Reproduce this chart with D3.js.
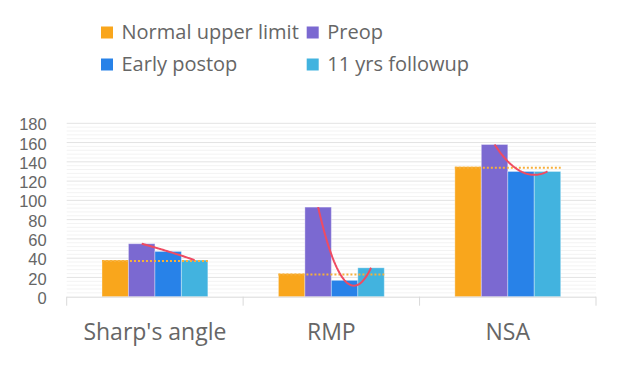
<!DOCTYPE html>
<html>
<head>
<meta charset="utf-8">
<script src="https://cdn.jsdelivr.net/npm/d3@7"></script>
<style>
  body { margin: 0; background: #ffffff; }
  text { font-family: "Open Sans", sans-serif; fill: #666666; }
</style>
</head>
<body>
<div id="chart"></div>
<script>
// datos
const categories = ["Sharp's angle", "RMP", "NSA"]
const seriesNames = ["Normal upper limit", "Preop", "Early postop", "11 yrs followup"]
const normalUpper = [38, 24, 135]
const preop = [55, 93, 158]
const earlyPostop = [47, 17, 130]
const followup = [38, 30, 130]
const yTicks = [0, 20, 40, 60, 80, 100, 120, 140, 160, 180]

const colors = ["#F9A61C", "#7B69D1", "#2882E8", "#42B3DF"]

const width = 617, height = 375
const margin = { top: 123.3, right: 21, bottom: 78.3, left: 66.7 }

const svg = d3.select("#chart").append("svg")
    .attr("width", width)
    .attr("height", height)

const rows = categories.map((c, i) => ({
    cat: c,
    values: [normalUpper[i], preop[i], earlyPostop[i], followup[i]]
}))

const x = d3.scaleBand()
    .domain(categories)
    .range([margin.left, width - margin.right])
    .padding(0)

const y = d3.scaleLinear()
    .domain([0, 180])
    .range([height - margin.bottom, margin.top])

const groupW = x.bandwidth() * 0.6
const xs = d3.scaleBand().domain(d3.range(4)).range([0, groupW]).padding(0)

// grid menor
const minor = d3.range(4, 180, 4).filter(v => v % 20 !== 0)
svg.append("g").selectAll("line")
    .data(minor)
    .join("line")
    .attr("x1", margin.left).attr("x2", width - margin.right)
    .attr("y1", d => y(d)).attr("y2", d => y(d))
    .attr("stroke", "#f3f3f3")
    .attr("stroke-width", 1)

// grid mayor
svg.append("g").selectAll("line")
    .data(yTicks.slice(1))
    .join("line")
    .attr("x1", margin.left).attr("x2", width - margin.right)
    .attr("y1", d => y(d)).attr("y2", d => y(d))
    .attr("stroke", "#e3e3e3")
    .attr("stroke-width", 1)

// eje Y
svg.append("g")
    .attr("transform", `translate(${margin.left - 20},0)`)
    .call(d3.axisLeft(y).tickValues(yTicks).tickSize(0).tickPadding(0))
    .call(g => g.select(".domain").remove())
    .selectAll("text")
    .attr("font-size", "16.5px")
    .attr("font-family", "Liberation Sans, sans-serif")
    .style("font-family", "Liberation Sans, sans-serif")
    .attr("fill", "#666666")
    .attr("dy", "0.4em")

// barras
const groups = svg.append("g").selectAll("g")
    .data(rows)
    .join("g")
    .attr("transform", d => `translate(${x(d.cat) + (x.bandwidth() - groupW) / 2},0)`)

groups.selectAll("rect")
    .data(d => d.values.map((v, i) => ({ v, i })))
    .join("rect")
    .attr("x", d => xs(d.i))
    .attr("width", xs.bandwidth())
    .attr("y", d => y(d.v))
    .attr("height", d => y(0) - y(d.v))
    .attr("fill", d => colors[d.i])
    .attr("stroke", "rgba(255,255,255,0.35)")
    .attr("stroke-width", 1)

// linea punteada del limite normal
groups.append("line")
    .attr("x1", 0)
    .attr("x2", groupW)
    .attr("y1", d => y(d.values[0]) + 1)
    .attr("y2", d => y(d.values[0]) + 1)
    .attr("stroke", "#F7B03A")
    .attr("stroke-width", 2)
    .attr("stroke-dasharray", "2,2")

// tendencia polinomica (orden 2) sobre Preop, Early postop, 11 yrs
const line = d3.line().x(d => d[0]).y(d => d[1])
groups.append("path")
    .attr("fill", "none")
    .attr("stroke", "#EF4B62")
    .attr("stroke-width", 2)
    .attr("d", d => {
        const [p0, p1, p2] = d.values.slice(1)
        const a = (p0 - 2 * p1 + p2) / 2
        const b = p1 - p0 - a
        const pts = d3.range(0, 2.001, 0.05).map(t => [
            xs(1) + xs.bandwidth() / 2 + t * xs.step(),
            y(p0 + b * t + a * t * t)
        ])
        return line(pts)
    })

// eje X
svg.append("line")
    .attr("x1", margin.left).attr("x2", width - margin.right)
    .attr("y1", y(0) + 0.5).attr("y2", y(0) + 0.5)
    .attr("stroke", "#d9d9d9")
const bounds = categories.map(c => x(c)).concat([width - margin.right])
svg.append("g").selectAll("line")
    .data(bounds)
    .join("line")
    .attr("x1", d => d).attr("x2", d => d)
    .attr("y1", y(0)).attr("y2", y(0) + 9)
    .attr("stroke", "#d9d9d9")

svg.append("g").selectAll("text")
    .data(categories)
    .join("text")
    .attr("x", d => x(d) + x.bandwidth() / 2)
    .attr("y", 340)
    .attr("text-anchor", "middle")
    .attr("font-size", "23px")
    .text(d => d)

// leyenda
const legendPos = [[101, 26.5], [306.7, 26.5], [101, 58.5], [306.7, 58.5]]
const legend = svg.append("g").selectAll("g")
    .data(seriesNames)
    .join("g")
    .attr("transform", (d, i) => `translate(${legendPos[i][0]},${legendPos[i][1]})`)
legend.append("rect")
    .attr("width", 12).attr("height", 12)
    .attr("fill", (d, i) => colors[i])
legend.append("text")
    .attr("x", 20.5)
    .attr("y", 12)
    .attr("font-size", "20px")
    .text(d => d)
</script>
</body>
</html>
